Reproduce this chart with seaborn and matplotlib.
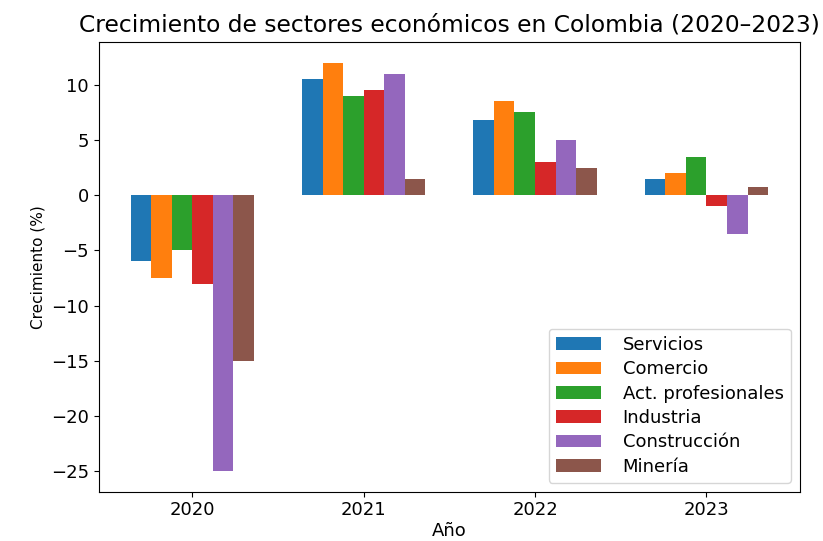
import pandas as pd
import matplotlib.pyplot as plt
import seaborn as sns

years = ["2020", "2021", "2022", "2023"]
sectores = ["Servicios", "Comercio", "Act. profesionales", "Industria", "Construcción", "Minería"]
servicios = [-6, 10.5, 6.8, 1.5]
comercio = [-7.5, 12, 8.5, 2]
act_prof = [-5, 9, 7.5, 3.5]
industria = [-8, 9.5, 3, -1]
construccion = [-25, 11, 5, -3.5]
mineria = [-15, 1.5, 2.5, 0.7]

valores = [servicios, comercio, act_prof, industria, construccion, mineria]
rows = []
for sector, vals in zip(sectores, valores):
    for year, v in zip(years, vals):
        rows.append({"Año": year, "Sector": sector, "Crecimiento": v})
df = pd.DataFrame(rows)

fig, ax = plt.subplots(figsize=(8.23, 5.41), dpi=100)
fig.subplots_adjust(left=0.120, right=0.972, top=0.922, bottom=0.091)

sns.barplot(data=df, x="Año", y="Crecimiento", hue="Sector", hue_order=sectores,
            order=years, palette=sns.color_palette("tab10", 6), saturation=1,
            width=0.72, gap=0, ax=ax, errorbar=None)

ax.set_xlim(-0.546, 3.546)
ax.set_ylim(-26.85, 13.85)
ax.set_title("Crecimiento de sectores económicos en Colombia (2020–2023)", fontsize=16.8, pad=8)
ax.set_ylabel("Crecimiento (%)", fontsize=11)
ax.set_xlabel("Año", fontsize=13, labelpad=2)
ax.tick_params(labelsize=13)
ax.legend(loc="lower right", fontsize=13, handlelength=2.5, handletextpad=1.2, labelspacing=0.35)

fig.savefig("out.png", dpi=100)
